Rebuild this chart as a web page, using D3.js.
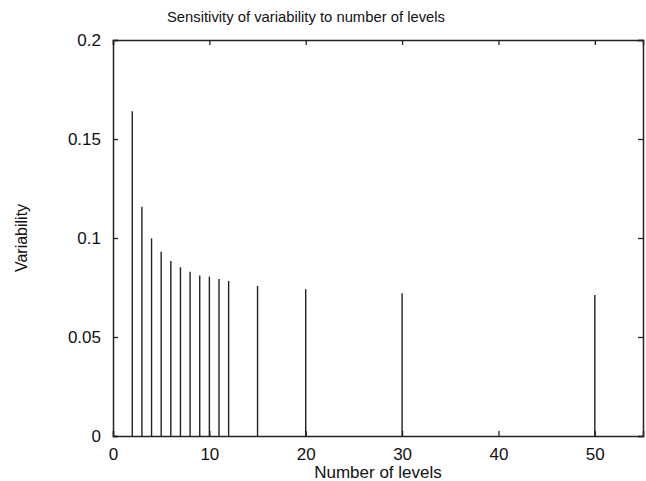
<!DOCTYPE html>
<html>
<head>
<meta charset="utf-8">
<script src="https://cdn.jsdelivr.net/npm/d3@7"></script>
<style>
body { margin: 0; background: #fff; }
svg text { font-family: "Liberation Sans", Arial, Helvetica, sans-serif; fill: #111; }
</style>
</head>
<body>
<script>
// number of levels and the variability at each
var levels = [2, 3, 4, 5, 6, 7, 8, 9, 10, 11, 12, 15, 20, 30, 50];
var variability = [0.164, 0.1158, 0.0998, 0.0931, 0.0884, 0.0852, 0.083, 0.0811,
	0.0805, 0.0793, 0.0783, 0.0758, 0.0741, 0.0721, 0.0712];
var xTicks = [0, 10, 20, 30, 40, 50];
var yTicks = [0, 0.05, 0.1, 0.15, 0.2];

var width = 646, height = 481;
var margin = {left: 113, right: 3, top: 40, bottom: 45};

var svg = d3.select('body').append('svg')
	.attr('width', width)
	.attr('height', height);

var x = d3.scaleLinear()
	.domain([0, 55])
	.range([margin.left, width - margin.right]);
var y = d3.scaleLinear()
	.domain([0, 0.2])
	.range([height - margin.bottom, margin.top]);

var stroke = '#222';

// stems
var pts = levels.map(function(l, i){ return {l: l, v: variability[i]}; });
svg.append('g')
	.selectAll('line')
	.data(pts)
	.enter().append('line')
	.attr('x1', function(d){ return x(d.l); })
	.attr('x2', function(d){ return x(d.l); })
	.attr('y1', y(0))
	.attr('y2', function(d){ return y(d.v); })
	.attr('stroke', stroke)
	.attr('stroke-width', 1.4);

// axes, ticks inward on all four sides
var fmt = function(d){ return d3.format('')(d); };

var axisB = svg.append('g')
	.attr('transform', 'translate(0,' + y(0) + ')')
	.call(d3.axisBottom(x).tickValues(xTicks).tickSize(-5).tickPadding(12).tickFormat(fmt));
var axisT = svg.append('g')
	.attr('transform', 'translate(0,' + y(0.2) + ')')
	.call(d3.axisTop(x).tickValues(xTicks).tickSize(-5).tickFormat(''));
var axisL = svg.append('g')
	.attr('transform', 'translate(' + x(0) + ',0)')
	.call(d3.axisLeft(y).tickValues(yTicks).tickSize(-5).tickPadding(12).tickFormat(fmt));
var axisR = svg.append('g')
	.attr('transform', 'translate(' + x(55) + ',0)')
	.call(d3.axisRight(y).tickValues(yTicks).tickSize(-5).tickFormat(''));

[axisB, axisT, axisL, axisR].forEach(function(g){
	g.selectAll('path').attr('stroke', stroke).attr('stroke-width', 1.5);
	g.selectAll('line').attr('stroke', stroke).attr('stroke-width', 1.3);
	g.selectAll('text')
		.attr('font-family', '"Liberation Sans", Arial, sans-serif')
		.attr('font-size', 17)
		.attr('fill', '#111');
});

// titles
svg.append('text')
	.attr('x', 306)
	.attr('y', 22)
	.attr('text-anchor', 'middle')
	.attr('font-size', 14.8)
	.text('Sensitivity of variability to number of levels');

svg.append('text')
	.attr('x', 378)
	.attr('y', 478)
	.attr('text-anchor', 'middle')
	.attr('font-size', 17)
	.text('Number of levels');

svg.append('text')
	.attr('transform', 'translate(27,238) rotate(-90)')
	.attr('text-anchor', 'middle')
	.attr('font-size', 16)
	.text('Variability');
</script>
</body>
</html>
